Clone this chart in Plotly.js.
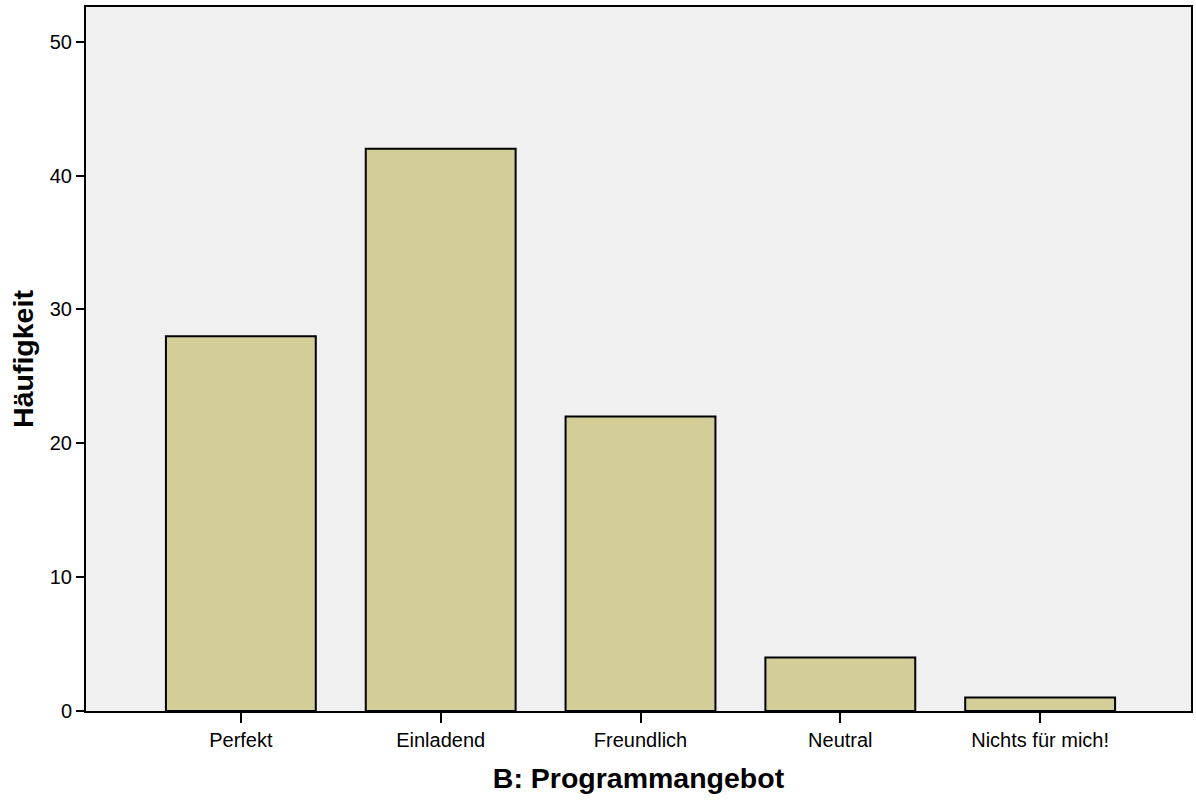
<!DOCTYPE html>
<html><head><meta charset="utf-8">
<script src="https://cdn.plot.ly/plotly-3.0.1.min.js"></script>
<style>html,body{margin:0;padding:0;background:#fff;}#chart{width:1196px;height:800px;}</style>
</head><body><div id="chart"></div>
<script>
const categories = ["Perfekt", "Einladend", "Freundlich", "Neutral", "Nichts für mich!"];
const counts = [28, 42, 22, 4, 1];
const yTicks = [0, 10, 20, 30, 40, 50];

const trace = {
  type: 'bar', x: categories, y: counts, width: 0.75,
  marker: {color: '#D3CE98', line: {color: '#000', width: 2}},
  hoverinfo: 'x+y'
};
const layout = {
  width: 1196, height: 800,
  margin: {l: 86, r: 5, t: 7, b: 89},
  paper_bgcolor: '#ffffff', plot_bgcolor: '#F0F0F0',
  showlegend: false, bargap: 0.25,
  font: {family: 'Liberation Sans, Arial, sans-serif', color: '#000', size: 20},
  xaxis: {
    type: 'category', range: [-0.775, 4.755],
    showline: true, linecolor: '#000', linewidth: 2, mirror: true,
    ticks: 'outside', ticklen: 10, tickwidth: 2, tickcolor: '#000',
    showgrid: false, zeroline: false,
    tickfont: {size: 20},
    title: {text: 'B: Programmangebot', font: {size: 28.5, weight: 'bold'}, standoff: 18}
  },
  yaxis: {
    range: [0, 52.6], tickvals: yTicks,
    showline: true, linecolor: '#000', linewidth: 2, mirror: true,
    ticks: 'outside', ticklen: 8, tickwidth: 2, tickcolor: '#000',
    showgrid: false, zeroline: false,
    tickfont: {size: 20},
    title: {text: 'Häufigkeit', font: {size: 28.5, weight: 'bold'}, standoff: 8}
  }
};
Plotly.newPlot('chart', [trace], layout, {displayModeBar: false, staticPlot: true});
</script></body></html>
